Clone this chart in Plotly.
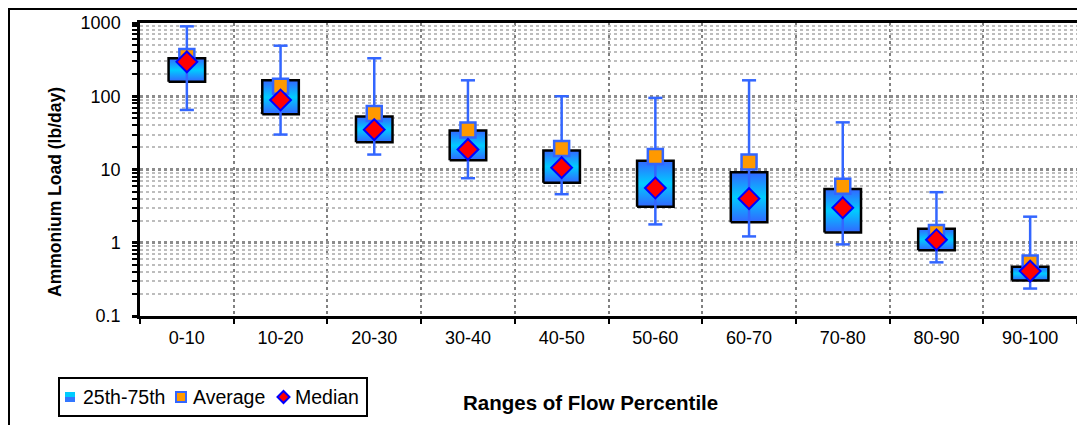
import plotly.graph_objects as go

# ---------------- data ----------------
categories = ["0-10", "10-20", "20-30", "30-40", "40-50",
              "50-60", "60-70", "70-80", "80-90", "90-100"]
p_max = [900, 490, 330, 165, 100, 95, 165, 44, 4.9, 2.27]
p75 = [330, 165, 53, 34, 18.2, 13.2, 9.2, 5.4, 1.55, 0.47]
p25 = [158, 57, 23.5, 13.4, 6.6, 3.1, 1.9, 1.38, 0.79, 0.305]
p_min = [65, 30, 16, 7.6, 4.6, 1.78, 1.22, 0.95, 0.54, 0.237]
average = [350, 137, 58, 34.5, 19.4, 15, 12.7, 5.9, 1.38, 0.53]
median = [295, 89, 35, 18.8, 10.6, 5.6, 4.0, 3.0, 1.1, 0.41]
y_tickvals = [0.1, 1, 10, 100, 1000]
y_ticktext = ["0.1", "1", "10", "100", "1000"]

# ---------------- layout geometry (screen pixels) ----------------
OFF = 8                      # default page body margin
SL, SR, ST, SB = 140, 1077, 23, 316   # plot area on screen
W, H = 1085 - OFF, 425 - OFF
L, R, T, B = SL - OFF, W - (SR - OFF), ST - OFF, H - (SB - OFF)
PW, PH = SR - SL, SB - ST


def xp(sx):
    return (sx - SL) / PW


def yp(sy):
    return (SB - sy) / PH


FONT = "Liberation Sans, Arial, sans-serif"
BOX_HW = 0.195
CAP_HW = 0.075
idx = list(range(len(categories)))

fig = go.Figure()

# boxes (25th-75th) with vertical gradient
for i in idx:
    fig.add_trace(go.Scatter(
        x=[i - BOX_HW, i + BOX_HW, i + BOX_HW, i - BOX_HW, i - BOX_HW],
        y=[p25[i], p25[i], p75[i], p75[i], p25[i]],
        mode="lines", fill="toself",
        fillgradient=dict(type="vertical",
                          colorscale=[[0, "#3366ff"], [0.5, "#00ccff"], [1, "#3366ff"]]),
        line=dict(color="black", width=2.5),
        showlegend=False, hoverinfo="skip"))

# whiskers
wx, wy = [], []
for i in idx:
    wx += [i, i, None, i - CAP_HW, i + CAP_HW, None, i - CAP_HW, i + CAP_HW, None]
    wy += [p_min[i], p_max[i], None, p_max[i], p_max[i], None, p_min[i], p_min[i], None]
fig.add_trace(go.Scatter(x=wx, y=wy, mode="lines",
                         line=dict(color="#3366ff", width=2.5),
                         showlegend=False, hoverinfo="skip"))

# average
fig.add_trace(go.Scatter(x=idx, y=average, mode="markers", name="Average",
                         marker=dict(symbol="square", size=15, color="#ff9900",
                                     line=dict(color="#3366ff", width=2.5)),
                         showlegend=False))
# median
fig.add_trace(go.Scatter(x=idx, y=median, mode="markers", name="Median",
                         marker=dict(symbol="diamond", size=16, color="#ff0000",
                                     line=dict(color="#0000ff", width=2)),
                         showlegend=False))

shapes = []
# outer chart frame
shapes.append(dict(type="rect", xref="paper", yref="paper",
                   x0=xp(OFF + 1), x1=xp(1100), y0=yp(440), y1=yp(OFF + 1),
                   line=dict(color="black", width=2), fillcolor="rgba(0,0,0,0)", layer="above"))
# legend frame
shapes.append(dict(type="rect", xref="paper", yref="paper",
                   x0=xp(59), x1=xp(367), y0=yp(416), y1=yp(378),
                   line=dict(color="black", width=2), fillcolor="white"))
# legend swatches
shapes.append(dict(type="rect", xref="paper", yref="paper",
                   x0=xp(65), x1=xp(75), y0=yp(397), y1=yp(392),
                   line=dict(width=0), fillcolor="#00ccff"))
shapes.append(dict(type="rect", xref="paper", yref="paper",
                   x0=xp(65), x1=xp(75), y0=yp(402), y1=yp(397),
                   line=dict(width=0), fillcolor="#3377ff"))
shapes.append(dict(type="rect", xref="paper", yref="paper",
                   x0=xp(176), x1=xp(186), y0=yp(402), y1=yp(392),
                   line=dict(color="#3366ff", width=2), fillcolor="#ff9900"))
cx, cy, hd = 283.5, 397, 6
shapes.append(dict(type="path", xref="paper", yref="paper",
                   path=f"M {xp(cx-hd)} {yp(cy)} L {xp(cx)} {yp(cy-hd)} L {xp(cx+hd)} {yp(cy)} L {xp(cx)} {yp(cy+hd)} Z",
                   line=dict(color="#0000ff", width=2), fillcolor="#ff0000"))

annotations = []
for txt, x in [("25th-75th", 81), ("Average", 191), ("Median", 293)]:
    annotations.append(dict(text=txt, xref="paper", yref="paper", x=xp(x), y=yp(397),
                            xanchor="left", yanchor="middle", showarrow=False,
                            font=dict(family=FONT, size=19.5, color="black")))
annotations.append(dict(text="<b>Ranges of Flow Percentile</b>", xref="paper", yref="paper",
                        x=xp(590), y=yp(402), xanchor="center", yanchor="middle",
                        showarrow=False, font=dict(family=FONT, size=20.5, color="black")))
annotations.append(dict(text="<b>Ammonium Load (lb/day)</b>", xref="paper", yref="paper",
                        x=xp(55), y=yp(192), xanchor="center", yanchor="middle",
                        textangle=-90, showarrow=False,
                        font=dict(family=FONT, size=17.5, color="black")))

fig.update_layout(
    width=W, height=H,
    margin=dict(l=L, r=R, t=T, b=B, pad=0, autoexpand=False),
    paper_bgcolor="white", plot_bgcolor="white",
    font=dict(family=FONT, size=18, color="black"),
    shapes=shapes, annotations=annotations,
    showlegend=False,
    xaxis=dict(range=[-0.5, 9.5], tickvals=idx, ticktext=categories,
               ticks="", showgrid=False, zeroline=False, automargin=False,
               showline=True, mirror=True, linecolor="black", linewidth=2.5,
               tickfont=dict(size=18), ticklabelstandoff=4,
               minor=dict(tickvals=[i + 0.5 for i in idx[:-1]] + [-0.5, 9.5],
                          ticks="outside", ticklen=5, tickwidth=2, tickcolor="black",
                          showgrid=True, gridcolor="#808080", griddash="dot", gridwidth=2)),
    yaxis=dict(type="log", range=[-1, 3], tickvals=y_tickvals, ticktext=y_ticktext,
               ticks="outside", ticklen=5, tickwidth=3, tickcolor="black",
               showgrid=True, gridcolor="#8c8c8c", griddash="dot", gridwidth=2.5,
               zeroline=False, showline=True, mirror=True, linecolor="black", linewidth=2.5,
               automargin=False,
               tickfont=dict(size=18), ticklabelstandoff=8,
               minor=dict(dtick="D1", ticks="outside", ticklen=5, tickwidth=2, tickcolor="black",
                          showgrid=True, gridcolor="#bdbdbd", griddash="dot", gridwidth=1.5)),
)

fig.write_html("out.html")
